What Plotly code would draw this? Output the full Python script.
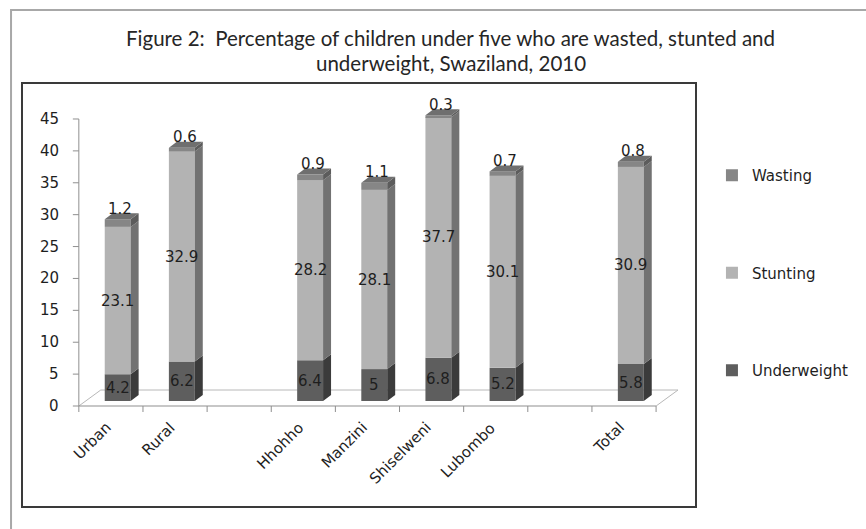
import plotly.graph_objects as go

# ---------------- data ----------------
categories = ["Urban", "Rural", "", "Hhohho", "Manzini", "Shiselweni", "Lubombo", "", "Total"]
underweight = [4.2, 6.2, None, 6.4, 5.0, 6.8, 5.2, None, 5.8]
stunting = [23.1, 32.9, None, 28.2, 28.1, 37.7, 30.1, None, 30.9]
wasting = [1.2, 0.6, None, 0.9, 1.1, 0.3, 0.7, None, 0.8]
series_names = ["Underweight", "Stunting", "Wasting"]
legend_ranks = [3, 2, 1]
y_ticks = [0, 5, 10, 15, 20, 25, 30, 35, 40, 45]
title_lines = ["Figure 2:\u00a0 Percentage of children under five who are wasted, stunted and",
               "underweight, Swaziland, 2010"]

# ---------------- style ----------------
front_colors = ["#5e5e5e", "#b3b3b3", "#868686"]
side_colors = ["#3b3b3b", "#727272", "#5c5c5c"]
top_color = "#6f6f6f"
FONT = "DejaVu Sans"
TXT = "#1e1e1e"

# pixel geometry of the canvas
W, H = 866, 529
L, R, T, B = 22, 698, 83, 507     # plot-area (inner frame) in px
X0PX, SLOT = 79, 64.33            # x of category axis origin, px per category slot
Y0PX, UNIT = 406, 6.378           # y of value 0 on front plane, px per unit

def px_x(px):
    return (px - X0PX) / SLOT

def px_y(py):
    return (Y0PX - py) / UNIT

def pap_x(px):
    return (px - L) / (R - L)

def pap_y(py):
    return (B - py) / (B - T)

# 3D projection parameters (data units)
BAR_OFF = -0.096       # front-face left edge relative to slot centre
BAR_W = 0.404          # front-face width
BASE0 = px_y(401)      # bars sit slightly behind the front edge of the floor
DX = 8 / SLOT          # side depth (x)
DY = 6 / UNIT          # side depth (y)
FLOOR_DX = 22 / SLOT
FLOOR_DY = 16 / UNIT

n = len(categories)
centres = [i + 0.5 for i in range(n)]
series = [underweight, stunting, wasting]

fig = go.Figure()

# cumulative bases
bases = []
run = [BASE0 if v is not None else None for v in underweight]
for vals in series:
    bases.append(list(run))
    run = [(r + v) if (r is not None and v is not None) else None for r, v in zip(run, vals)]
tops = run

# front faces (real bars)
for k, vals in enumerate(series):
    fig.add_trace(go.Bar(
        x=centres, y=vals, base=bases[k], offset=BAR_OFF, width=BAR_W,
        marker=dict(color=front_colors[k], line=dict(width=0)),
        name=series_names[k], legendgroup=series_names[k], legendrank=legend_ranks[k],
        hoverinfo="name+y",
    ))

# side faces
for k, vals in enumerate(series):
    xs, ys = [], []
    for c, b, v in zip(centres, bases[k], vals):
        if v is None:
            continue
        xr = c + BAR_OFF + BAR_W
        xs += [xr, xr + DX, xr + DX, xr, xr, None]
        ys += [b, b + DY, b + v + DY, b + v, b, None]
    fig.add_trace(go.Scatter(x=xs, y=ys, mode="lines", fill="toself",
                             fillcolor=side_colors[k], line=dict(width=0),
                             showlegend=False, hoverinfo="skip"))

# top faces of the stacks
xs, ys = [], []
for c, t in zip(centres, tops):
    if t is None:
        continue
    xl = c + BAR_OFF
    xr = xl + BAR_W
    xs += [xl, xl + DX, xr + DX, xr, xl, None]
    ys += [t, t + DY, t + DY, t, t, None]
fig.add_trace(go.Scatter(x=xs, y=ys, mode="lines", fill="toself",
                         fillcolor=top_color, line=dict(width=0),
                         showlegend=False, hoverinfo="skip"))

shapes = []
floor_col = "#b8b8b8"
axis_col = "#8f8f8f"
# floor outline (behind bars)
fl = [(0, 0), (FLOOR_DX, FLOOR_DY), (n + FLOOR_DX, FLOOR_DY), (n, 0)]
for (xa, ya), (xb, yb) in zip(fl[:-1], fl[1:]):
    shapes.append(dict(type="line", xref="x", yref="y", x0=xa, y0=ya, x1=xb, y1=yb,
                       line=dict(color=floor_col, width=1), layer="below"))
# category axis + ticks
shapes.append(dict(type="line", xref="x", yref="y", x0=0, y0=0, x1=n, y1=0,
                   line=dict(color=axis_col, width=1), layer="below"))
for i in range(n + 1):
    shapes.append(dict(type="line", xref="x", yref="y", x0=i, y0=0, x1=i, y1=px_y(Y0PX + 6),
                       line=dict(color=axis_col, width=1), layer="below"))
# value axis + ticks
shapes.append(dict(type="line", xref="x", yref="y", x0=0, y0=0, x1=0, y1=y_ticks[-1],
                   line=dict(color=axis_col, width=1), layer="below"))
for v in y_ticks:
    shapes.append(dict(type="line", xref="x", yref="y", x0=px_x(X0PX - 6), y0=v, x1=0, y1=v,
                       line=dict(color=axis_col, width=1), layer="below"))
# inner frame
shapes.append(dict(type="rect", xref="paper", yref="paper", x0=0, y0=0, x1=1, y1=1,
                   line=dict(color="#3a3a3a", width=2)))
# outer frame
shapes.append(dict(type="rect", xref="paper", yref="paper",
                   x0=pap_x(11), y0=pap_y(H + 20), x1=pap_x(W + 20), y1=pap_y(10),
                   line=dict(color="#a8a8a8", width=2)))

ann = []
# title (two centred lines)
for line, yc in zip(title_lines, [38, 63]):
    ann.append(dict(xref="paper", yref="paper", x=pap_x(452), y=pap_y(yc), xanchor="center",
                    yanchor="middle", text=line, showarrow=False,
                    font=dict(family="Lato, Noto Sans", size=20.5, color="#262626")))
# value tick labels
for v in y_ticks:
    ann.append(dict(xref="x", yref="y", x=px_x(61), y=v, xanchor="right", yanchor="middle",
                    text=str(v), showarrow=False, font=dict(family=FONT, size=15, color=TXT)))
# category labels
for c, name in zip(centres, categories):
    if not name:
        continue
    ann.append(dict(xref="x", yref="y", x=c + 0.1, y=px_y(416), xanchor="right", yanchor="top",
                    text=name, textangle=-45, showarrow=False,
                    font=dict(family=FONT, size=15, color=TXT)))

def fmt(v):
    return ("%g" % v)

# data labels
for k, vals in enumerate(series):
    for c, b, v in zip(centres, bases[k], vals):
        if v is None:
            continue
        xc = c + BAR_OFF + BAR_W / 2
        if k < 2:
            ann.append(dict(xref="x", yref="y", x=xc, y=b + v / 2, xanchor="center",
                            yanchor="middle", text=fmt(v), showarrow=False,
                            font=dict(family=FONT, size=15, color=TXT)))
        else:
            ann.append(dict(xref="x", yref="y", x=xc + DX / 3, y=b + v + DY - 1.0,
                            xanchor="center", yanchor="bottom", text=fmt(v), showarrow=False,
                            font=dict(family=FONT, size=15, color=TXT)))

fig.update_layout(
    width=W, height=H,
    margin=dict(l=L, r=W - R, t=T, b=H - B),
    paper_bgcolor="white", plot_bgcolor="white",
    barmode="overlay",
    xaxis=dict(range=[px_x(L), px_x(R)], visible=False, fixedrange=True),
    yaxis=dict(range=[px_y(B), px_y(T)], visible=False, fixedrange=True),
    shapes=shapes, annotations=ann,
    showlegend=True,
    legend=dict(x=pap_x(714), xanchor="left", y=pap_y(159), yanchor="top",
                traceorder="grouped", tracegroupgap=75,
                font=dict(family=FONT, size=15, color=TXT), bgcolor="rgba(0,0,0,0)"),
)

fig.write_html("out.html")
